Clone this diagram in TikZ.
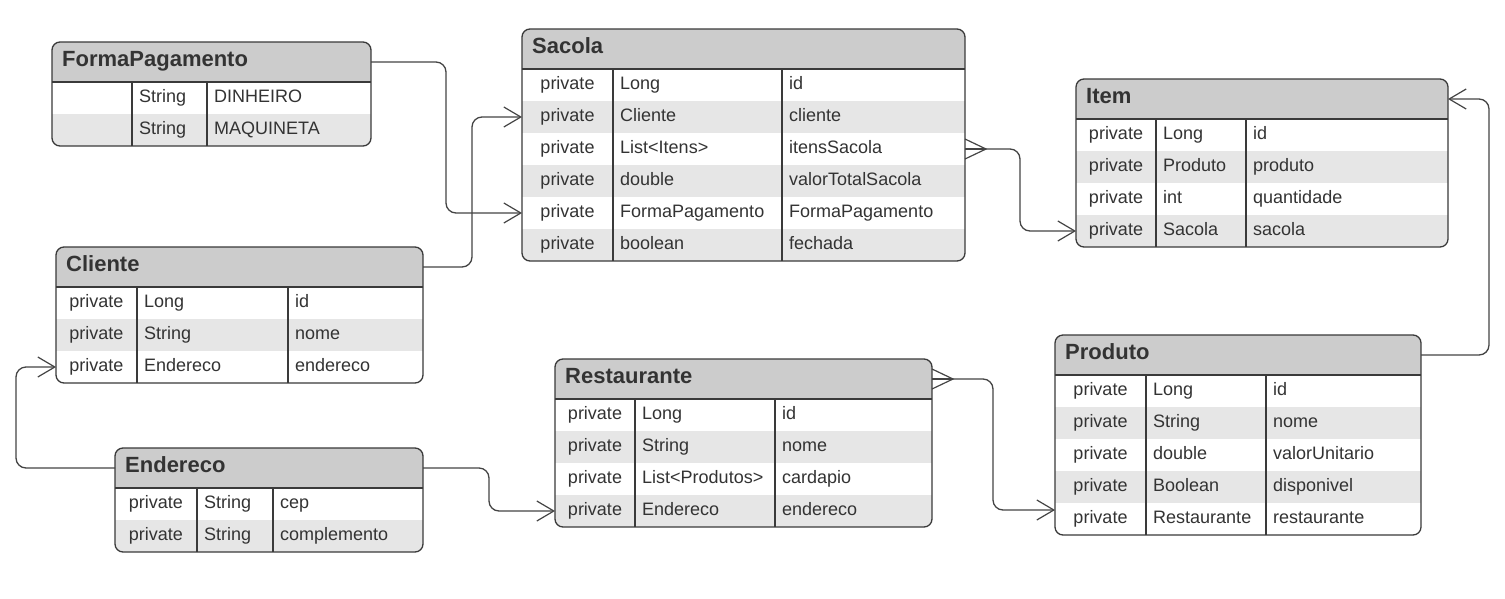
\documentclass[tikz,border=0pt]{standalone}
\usepackage{fontspec}
\setmainfont{Liberation Sans}
\usetikzlibrary{arrows.meta,calc}
\definecolor{txt}{HTML}{333333}
\definecolor{headfill}{HTML}{CCCCCC}
\definecolor{rowfill}{HTML}{E6E6E6}
\definecolor{edge}{HTML}{3A3A3A}
\definecolor{wire}{HTML}{444444}
\tikzset{
  celltext/.style={inner sep=0pt, text=txt, font=\fontsize{18}{22}\selectfont},
  headtext/.style={inner sep=0pt, text=txt, font=\fontsize{22}{26}\selectfont\bfseries},
  tableframe/.style={draw=edge, line width=1.3pt, rounded corners=8pt},
  tablerule/.style={draw=edge, line width=1.1pt},
  conn/.style={draw=wire, line width=1.3pt, rounded corners=10pt},
  openarrow/.style={-{Straight Barb[length=17pt,width=20pt,line width=1.2pt]}},
  crowfoot/.style={draw=wire, line width=1.2pt},
}
% #1 name, #2 left, #3 top, #4 right, #5 col1, #6 col2, #7 title, #8 rows a/b/c
\newcommand\ertable[8]{%
  \foreach [count=\i] \a in {#8} {\xdef\ern{\i}}%
  \pgfmathsetmacro\erb{#3+40+32*\ern}%
  \pgfmathsetmacro\erw{#4-#2}%
  \pgfmathsetmacro\erh{40+32*\ern}%
  \node[inner sep=0pt, outer sep=0pt, minimum width=\erw pt, minimum height=\erh pt, anchor=north west] (#1) at (#2,#3) {};
  \begin{scope}
    \clip[rounded corners=8pt] (#2,#3) rectangle (#4,\erb);
    \fill[headfill] (#2,#3) rectangle (#4,#3+40);
    \foreach [count=\i] \a/\b/\c in {#8} {
      \ifodd\i\else
        \fill[rowfill] (#2,{#3+40+32*(\i-1)}) rectangle (#4,{#3+40+32*\i});
      \fi
    }
  \end{scope}
  \draw[tablerule] (#2,#3+40) -- (#4,#3+40);
  \draw[tablerule] (#5,#3+40) -- (#5,\erb);
  \draw[tablerule] (#6,#3+40) -- (#6,\erb);
  \draw[tableframe] (#2,#3) rectangle (#4,\erb);
  \node[headtext, anchor=base west] (#1-title) at (#2+10,#3+24) {#7};
  \coordinate (#1-h-w) at (#2,#3+20);
  \coordinate (#1-h-e) at (#4,#3+20);
  \foreach [count=\i] \a/\b/\c in {#8} {
    \node[celltext, anchor=base] (#1-\i-a) at ({(#2+#5)/2},{#3+40+32*(\i-1)+20}) {\a};
    \node[celltext, anchor=base west] (#1-\i-b) at (#5+7,{#3+40+32*(\i-1)+20}) {\b};
    \node[celltext, anchor=base west] (#1-\i-c) at (#6+7,{#3+40+32*(\i-1)+20}) {\c};
    \coordinate (#1-\i-w) at (#2,{#3+40+32*(\i-1)+16});
    \coordinate (#1-\i-e) at (#4,{#3+40+32*(\i-1)+16});
  }
}
\begin{document}
\begin{tikzpicture}[x=1pt,y=-1pt]
\useasboundingbox[fill=white] (0,0) rectangle (1505,598);

\ertable{forma}{52}{42}{371}{132}{207}{FormaPagamento}{{}/String/DINHEIRO, {}/String/MAQUINETA}
\ertable{sacola}{522}{29}{965}{613}{782}{Sacola}{private/Long/id, private/Cliente/cliente, private/List<Itens>/itensSacola, private/double/valorTotalSacola, private/FormaPagamento/FormaPagamento, private/boolean/fechada}
\ertable{item}{1076}{79}{1448}{1156}{1246}{Item}{private/Long/id, private/Produto/produto, private/int/quantidade, private/Sacola/sacola}
\ertable{cliente}{56}{247}{423}{137}{288}{Cliente}{private/Long/id, private/String/nome, private/Endereco/endereco}
\ertable{endereco}{115}{448}{423}{197}{273}{Endereco}{private/String/cep, private/String/complemento}
\ertable{rest}{555}{359}{932}{635}{775}{Restaurante}{private/Long/id, private/String/nome, private/List<Produtos>/cardapio, private/Endereco/endereco}
\ertable{produto}{1055}{335}{1421}{1146}{1266}{Produto}{private/Long/id, private/String/nome, private/double/valorUnitario, private/Boolean/disponivel, private/Restaurante/restaurante}

% FormaPagamento -> Sacola.formaPagamento
\draw[conn, openarrow] (forma-h-e) -- ++(75,0) |- (sacola-5-w);
% Cliente -> Sacola.cliente
\draw[conn, openarrow] (cliente-h-e) -- ++(49,0) |- (sacola-2-w);
% Sacola.itensSacola (many) -> Item.sacola
\coordinate (sacfoot) at ($(sacola-3-e)+(21,0)$);
\draw[crowfoot] ($(sacola-3-e)+(0,-10)$) -- (sacfoot) -- ($(sacola-3-e)+(0,10)$);
\draw[crowfoot] (sacola-3-e) -- (sacfoot);
\draw[conn, openarrow] (sacfoot) -- ++(34,0) |- (item-4-w);
% Produto -> Item
\draw[conn, openarrow] (produto-h-e) -- ++(68,0) |- (item-h-e);
% Endereco -> Cliente.endereco
\draw[conn, openarrow] (endereco-h-w) -- ++(-99,0) |- (cliente-3-w);
% Endereco -> Restaurante.endereco
\draw[conn, openarrow] (endereco-h-e) -- ++(66,0) |- (rest-4-w);
% Restaurante (many) -> Produto.restaurante
\coordinate (restfoot) at ($(rest-h-e)+(21,0)$);
\coordinate (prodin) at ($(produto-5-w)+(0,-9)$);
\draw[crowfoot] ($(rest-h-e)+(0,-10)$) -- (restfoot) -- ($(rest-h-e)+(0,10)$);
\draw[crowfoot] (rest-h-e) -- (restfoot);
\draw[conn, openarrow] (restfoot) -- ++(40,0) |- (prodin);
\end{tikzpicture}
\end{document}
